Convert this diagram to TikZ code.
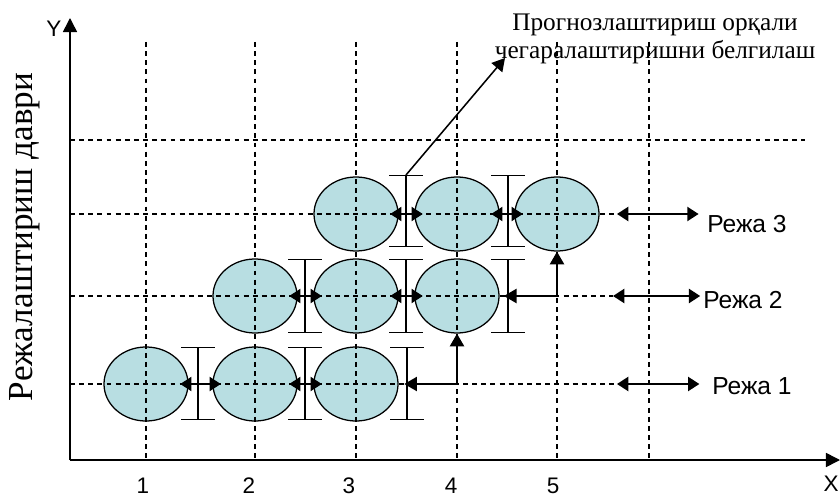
\documentclass[tikz,border=0pt]{standalone}
\usepackage{fontspec}
\setmainfont{Liberation Serif}
\setsansfont{Liberation Sans}
\usetikzlibrary{arrows.meta,shapes.geometric}
\definecolor{planblue}{HTML}{B8DEE2}

\begin{document}
\begin{tikzpicture}[x=0.025cm, y=-0.025cm,
    plan/.style={ellipse, draw, line width=0.9pt, fill=planblue, minimum width=2.1cm, minimum height=1.85cm, inner sep=0pt},
    gridline/.style={dash pattern=on 3.5pt off 3pt, line width=0.9pt},
    capbar/.style={{Bar[width=24pt]}-{Bar[width=24pt]}, line width=0.9pt},
    link/.style={{Triangle[length=8pt,width=10pt]}-{Triangle[length=8pt,width=10pt]}, line width=1.4pt},
    feed/.style={-{Triangle[length=9pt,width=10pt]}, line width=1.4pt},
    axis/.style={-{Triangle[length=10pt,width=10pt]}, line width=1.1pt},
    lbl/.style={font=\sffamily\fontsize{16}{18}\selectfont, inner sep=0pt}
]
\useasboundingbox (0,0) rectangle (840,498);

% ---- plans ----
\foreach \c/\x in {1/146,2/255,3/356} \node[plan] (a\c) at (\x,384) {};
\foreach \c/\x in {2/255,3/356,4/457} \node[plan] (b\c) at (\x,296) {};
\foreach \c/\x in {3/356,4/457,5/557} \node[plan] (c\c) at (\x,214) {};

% ---- grid ----
\coordinate (r1) at (617,384);
\coordinate (r2) at (613,296);
\coordinate (r3) at (617,214);
\foreach \x in {146,255,356,457,557,649} \draw[gridline] (\x,42) -- (\x,460);
\draw[gridline] (70,140) -- (805,140);
\draw[gridline] (70,214) -- (r3);
\draw[gridline] (70,296) -- (r2);
\draw[gridline] (70,384) -- (r1);

% ---- axes ----
\coordinate (o) at (70,460);
\coordinate (ytop) at (70,18);
\coordinate (xend) at (840,460);
\draw[axis] (o) -- (ytop);
\draw[axis] (o) -- (xend);
\node[lbl] (ylab) at (54,29) {Y};
\node[lbl] (xlab) at (831,484) {X};
\foreach \c/\x in {1/143,2/249,3/349,4/451,5/553} \node[lbl] (n\c) at (\x,486) {\c};
\node[rotate=90, font=\fontsize{25}{30}\selectfont] (period) at (25,237) {Режалаштириш даври};

% ---- capacity bars ----
\foreach \x in {198,305,407} \draw[capbar] (\x,347) -- (\x,420);
\foreach \x in {305,406,508} \draw[capbar] (\x,259) -- (\x,333);
\foreach \x in {406,508} \draw[capbar] (\x,175) -- (\x,247);

% ---- links ----
\draw[link, shorten <=-6pt, shorten >=-6pt] (a1) -- (a2);
\draw[link, shorten <=-6pt, shorten >=-6pt] (a2) -- (a3);
\draw[link, shorten <=-6pt, shorten >=-6pt] (b2) -- (b3);
\draw[link, shorten <=-6pt, shorten >=-6pt] (b3) -- (b4);
\draw[link, shorten <=-6pt, shorten >=-6pt] (c3) -- (c4);
\draw[link, shorten <=-6pt, shorten >=-6pt] (c4) -- (c5);

\coordinate (k1) at (457,384);
\coordinate (k2) at (557,296);
\draw[feed, shorten >=4pt] (k1) -- (a3.east);
\draw[feed] (k1) -- (b4.south);
\draw[feed, shorten >=3pt] (k2) -- (b4.east);
\draw[feed] (k2) -- (c5.south);

% ---- plan labels ----
\node[lbl, font=\sffamily\fontsize{17.5}{20}\selectfont, anchor=west] (p3) at (707,224) {Режа 3};
\node[lbl, font=\sffamily\fontsize{17.5}{20}\selectfont, anchor=west] (p2) at (703,300) {Режа 2};
\node[lbl, font=\sffamily\fontsize{17.5}{20}\selectfont, anchor=west] (p1) at (712,386) {Режа 1};
\draw[link, shorten >=6pt] (r3) -- (p3.west |- r3);
\draw[link, shorten >=2pt] (r2) -- (p2.west |- r2);
\draw[link, shorten >=9pt] (r1) -- (p1.west |- r1);

% ---- note ----
\node[align=center, font=\fontsize{18}{19.5}\selectfont] (note) at (655,39) {Прогнозлаштириш орқали\\чегаралаштиришни белгилаш};
\coordinate (q) at (406,175);
\coordinate (aim) at (505,58);
\draw[feed, line width=1.1pt] (q) -- (aim);
\end{tikzpicture}
\end{document}
